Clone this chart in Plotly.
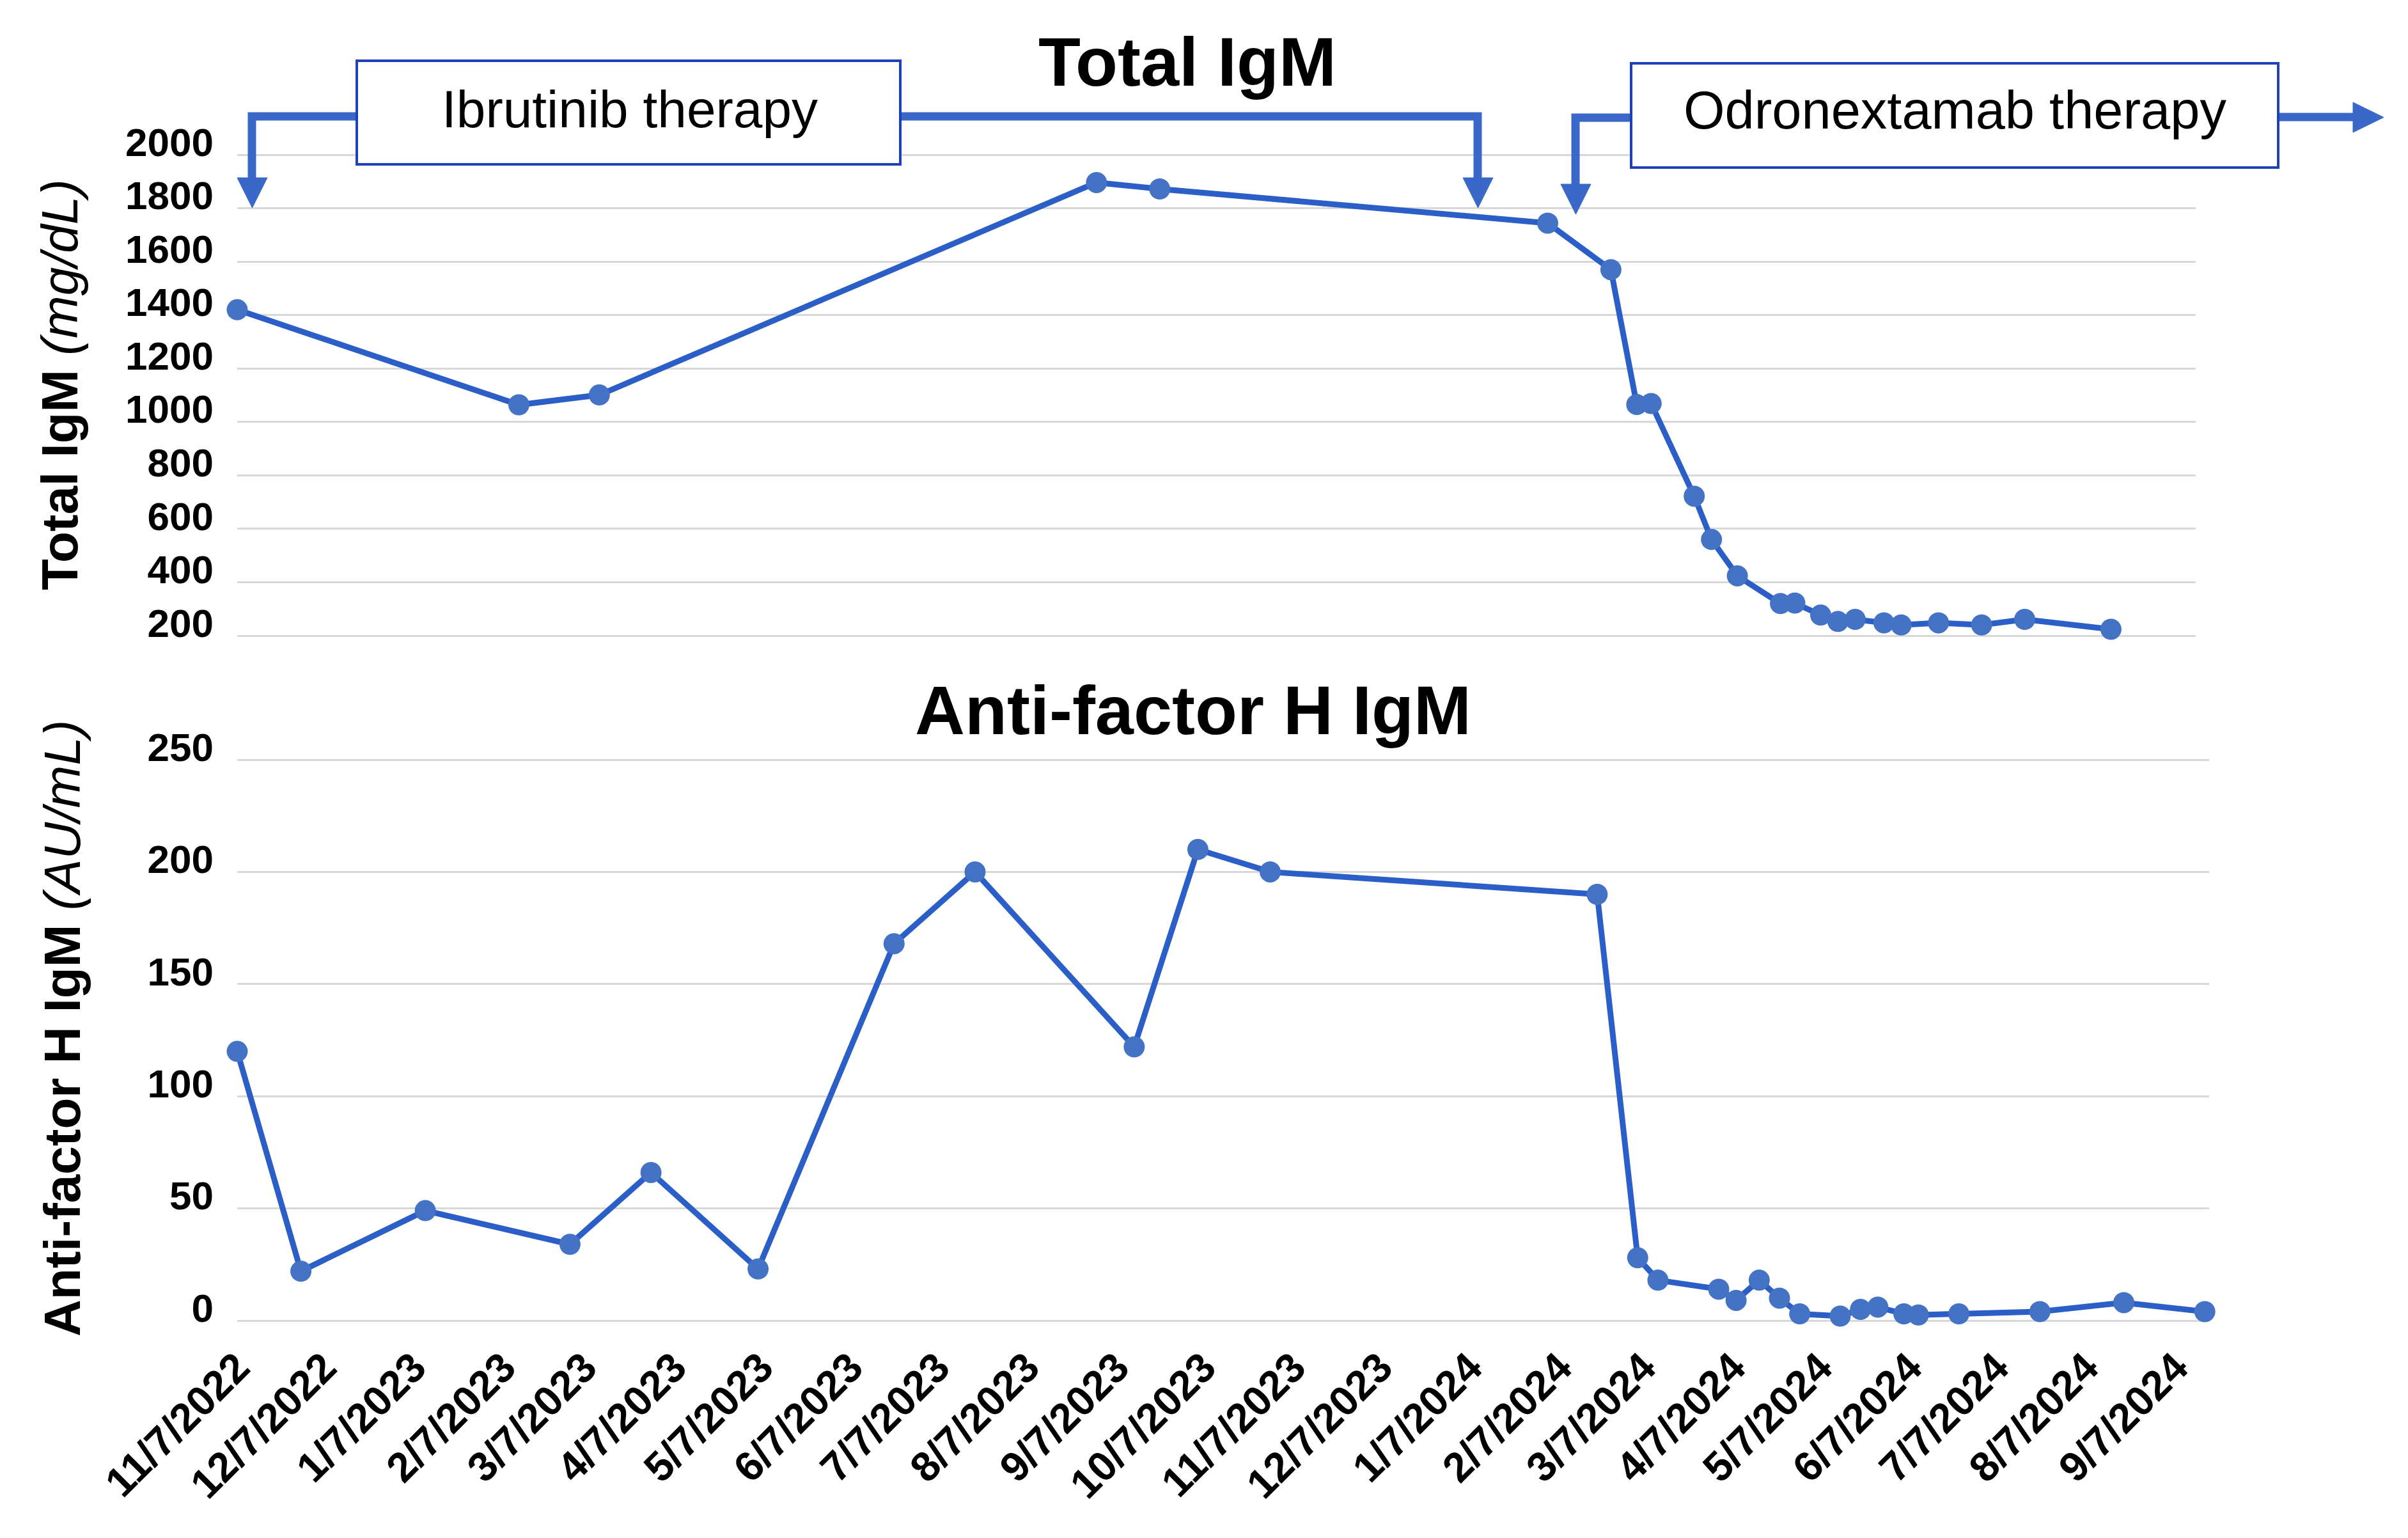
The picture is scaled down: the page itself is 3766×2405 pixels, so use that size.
import plotly.graph_objects as go

# ---------------- data ----------------
total_dates = ["2022-11-07", "2023-02-13", "2023-03-13", "2023-09-02", "2023-09-24",
               "2024-02-06", "2024-02-28", "2024-03-08", "2024-03-13", "2024-03-28",
               "2024-04-03", "2024-04-12", "2024-04-27", "2024-05-02", "2024-05-11",
               "2024-05-17", "2024-05-23", "2024-06-02", "2024-06-08", "2024-06-21",
               "2024-07-06", "2024-07-21", "2024-08-20"]
total_igm = [1420, 1064, 1101, 1896, 1872,
             1744, 1570, 1065, 1069, 722,
             560, 424, 320, 322, 277,
             253, 261, 248, 240, 248,
             240, 261, 224]

afh_dates = ["2022-11-07", "2022-11-29", "2023-01-11", "2023-03-02", "2023-03-30",
             "2023-05-06", "2023-06-22", "2023-07-20", "2023-09-13", "2023-10-05",
             "2023-10-30", "2024-02-20", "2024-03-05", "2024-03-12", "2024-04-02",
             "2024-04-08", "2024-04-16", "2024-04-23", "2024-04-30", "2024-05-14",
             "2024-05-21", "2024-05-27", "2024-06-05", "2024-06-10", "2024-06-24",
             "2024-07-22", "2024-08-20", "2024-09-17"]
afh_igm = [120, 22, 49, 34, 66,
           23, 168, 200, 122, 210,
           200, 190, 28, 18, 14,
           9, 18, 10, 3, 2,
           5, 6, 3, 2.5, 3,
           4, 8, 4]

tick_dates = ["2022-11-07", "2022-12-07", "2023-01-07", "2023-02-07", "2023-03-07",
              "2023-04-07", "2023-05-07", "2023-06-07", "2023-07-07", "2023-08-07",
              "2023-09-07", "2023-10-07", "2023-11-07", "2023-12-07", "2024-01-07",
              "2024-02-07", "2024-03-07", "2024-04-07", "2024-05-07", "2024-06-07",
              "2024-07-07", "2024-08-07", "2024-09-07"]
tick_labels = ["11/7/2022", "12/7/2022", "1/7/2023", "2/7/2023", "3/7/2023",
               "4/7/2023", "5/7/2023", "6/7/2023", "7/7/2023", "8/7/2023",
               "9/7/2023", "10/7/2023", "11/7/2023", "12/7/2023", "1/7/2024",
               "2/7/2024", "3/7/2024", "4/7/2024", "5/7/2024", "6/7/2024",
               "7/7/2024", "8/7/2024", "9/7/2024"]
total_ticks = [200, 400, 600, 800, 1000, 1200, 1400, 1600, 1800, 2000]
afh_ticks = [0, 50, 100, 150, 200, 250]

x_range = ["2022-11-07", "2024-09-18 12:00"]
total_range = [190, 2010]
afh_range = [-2, 252]

# ---------------- layout helpers ----------------
W, H = 3766, 2405
FONT = "Liberation Sans, Arial, sans-serif"
LINE_C = "#2B5EC7"
MARK_C = "#4472C4"
ARROW_C = "#3A68C8"
BOX_C = "#1E40B8"
GRID_C = "#D9D9D9"
LABEL_LIFT = 20  # y tick labels sit on (just above) their grid lines


def fx(x):
    return x / W


def fy(y):
    return 1 - y / H


# pixel extents of the two plot areas (value 200->994px, 2000->242px; 0->2065px, 250->1188px)
top_k = (994 - 242) / (total_ticks[-1] - total_ticks[0])
top_bot = 994 + (total_ticks[0] - total_range[0]) * top_k
top_top = 242 - (total_range[1] - total_ticks[-1]) * top_k
bot_k = (2065 - 1188) / (afh_ticks[-1] - afh_ticks[0])
bot_bot = 2065 + (afh_ticks[0] - afh_range[0]) * bot_k
bot_top = 1188 - (afh_range[1] - afh_ticks[-1]) * bot_k

fig = go.Figure()
# empty traces that register the label-only axes (drawn first, underneath)
fig.add_trace(go.Scatter(x=[None], y=[None], xaxis="x", yaxis="y3", showlegend=False,
                         hoverinfo="skip"))
fig.add_trace(go.Scatter(x=[None], y=[None], xaxis="x2", yaxis="y4", showlegend=False,
                         hoverinfo="skip"))
fig.add_trace(go.Scatter(x=total_dates, y=total_igm, mode="lines+markers",
                         line=dict(color=LINE_C, width=9),
                         marker=dict(color=MARK_C, size=33),
                         xaxis="x", yaxis="y", showlegend=False, cliponaxis=False))
fig.add_trace(go.Scatter(x=afh_dates, y=afh_igm, mode="lines+markers",
                         line=dict(color=LINE_C, width=9),
                         marker=dict(color=MARK_C, size=33),
                         xaxis="x2", yaxis="y2", showlegend=False, cliponaxis=False))

ytick_font = dict(family=FONT, size=62, color="black", weight="bold")
grid_axis = dict(showgrid=True, gridcolor=GRID_C, gridwidth=3, zeroline=False,
                 showline=False, showticklabels=False, automargin=False, tickmode="array")
label_axis = dict(showgrid=False, zeroline=False, showline=False, tickfont=ytick_font,
                  ticklabelstandoff=36, automargin=False, tickmode="array")

fig.update_layout(
    width=W, height=H,
    margin=dict(l=0, r=0, t=0, b=0, autoexpand=False),
    paper_bgcolor="white", plot_bgcolor="rgba(0,0,0,0)",
    font=dict(family=FONT, color="black"),
    xaxis=dict(type="date", domain=[fx(371), fx(3434)], range=x_range,
               showgrid=False, showticklabels=False, zeroline=False, showline=False,
               anchor="y", automargin=False),
    yaxis=dict(domain=[fy(top_bot), fy(top_top)], range=total_range,
               tickvals=total_ticks, anchor="x", **grid_axis),
    yaxis3=dict(domain=[fy(top_bot - LABEL_LIFT), fy(top_top - LABEL_LIFT)], range=total_range,
                tickvals=total_ticks, ticktext=[str(v) for v in total_ticks], anchor="x",
                **label_axis),
    xaxis2=dict(type="date", domain=[fx(371), fx(3455)], range=x_range,
                tickmode="array", tickvals=tick_dates, ticktext=tick_labels,
                tickangle=-45, showgrid=False, zeroline=False, showline=False,
                tickfont=dict(family=FONT, size=65, color="black", weight="bold"),
                ticklabelstandoff=14, anchor="y2", automargin=False),
    yaxis2=dict(domain=[fy(bot_bot), fy(bot_top)], range=afh_range,
                tickvals=afh_ticks, anchor="x2", **grid_axis),
    yaxis4=dict(domain=[fy(bot_bot - LABEL_LIFT), fy(bot_top - LABEL_LIFT)], range=afh_range,
                tickvals=afh_ticks, ticktext=[str(v) for v in afh_ticks], anchor="x2",
                **label_axis),
)

# ---------------- titles ----------------
annotations = [
    dict(text="<b>Total IgM</b>", x=fx(1857), y=fy(97), font=dict(size=108)),
    dict(text="<b>Anti-factor H IgM</b>", x=fx(1866), y=fy(1110), font=dict(size=108)),
    dict(text="<b>Total IgM</b> <i>(mg/dL)</i>", x=fx(93), y=fy(602), textangle=-90,
         font=dict(size=80)),
    dict(text="<b>Anti-factor H IgM</b> <i>(AU/mL)</i>", x=fx(97), y=fy(1608), textangle=-90,
         font=dict(size=80)),
    dict(text="Ibrutinib therapy", x=fx(985), y=fy(170), font=dict(size=82)),
    dict(text="Odronextamab therapy", x=fx(3057), y=fy(172), font=dict(size=83)),
]
for a in annotations:
    a.update(xref="paper", yref="paper", showarrow=False, xanchor="center", yanchor="middle")
    a["font"].update(family=FONT, color="black")
fig.update_layout(annotations=annotations)


# ---------------- therapy arrows & boxes ----------------
def path(points, close=False):
    s = "M " + " L ".join(f"{fx(px):.5f},{fy(py):.5f}" for px, py in points)
    return s + (" Z" if close else "")


shapes = []
# connector lines
for pts in ([(394, 280), (394, 182), (560, 182)],
            [(1406, 182), (2311, 182), (2311, 280)],
            [(2464, 290), (2464, 184), (2553, 184)],
            [(3562, 183), (3684, 183)]):
    shapes.append(dict(type="path", path=path(pts), xref="paper", yref="paper",
                       line=dict(color=ARROW_C, width=13)))
# arrow heads
for pts in ([(371, 278), (418, 278), (394.5, 325)],
            [(2288, 278), (2335, 278), (2311.5, 325)],
            [(2441, 288), (2488, 288), (2464.5, 335)],
            [(3680, 160), (3680, 207), (3728, 183.5)]):
    shapes.append(dict(type="path", path=path(pts, close=True), xref="paper", yref="paper",
                       fillcolor=ARROW_C, line=dict(color=ARROW_C, width=1)))
# boxes
for x0, y0, x1, y1 in ((558, 95, 1408, 257), (2551, 99, 3563, 262)):
    shapes.append(dict(type="rect", xref="paper", yref="paper",
                       x0=fx(x0), x1=fx(x1), y0=fy(y1), y1=fy(y0),
                       fillcolor="white", line=dict(color=BOX_C, width=4), layer="above"))
fig.update_layout(shapes=shapes)

fig.write_html("out.html", config={"displayModeBar": False},
               post_script="document.body.style.margin='0';document.body.style.overflow='hidden';")
